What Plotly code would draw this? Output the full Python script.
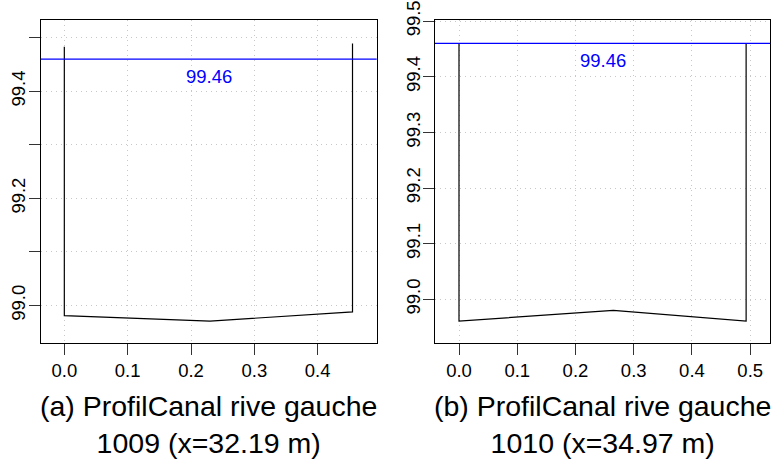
import plotly.graph_objects as go

# Panel (a): profile 1009
x_a = [0.0, 0.0, 0.23, 0.455, 0.455]
y_a = [99.483, 98.981, 98.971, 98.988, 99.489]
water_a = 99.46
caption_a = "(a) ProfilCanal rive gauche<br>1009 (x=32.19 m)"

# Panel (b): profile 1010
x_b = [0.0, 0.0, 0.265, 0.493, 0.493]
y_b = [99.46, 98.961, 98.980, 98.961, 99.46]
water_b = 99.46
caption_b = "(b) ProfilCanal rive gauche<br>1010 (x=34.97 m)"

yticks = [99.0, 99.1, 99.2, 99.3, 99.4, 99.5]
yticktext_a = ["99.0", "", "99.2", "", "99.4", ""]
yticktext_b = ["99.0", "99.1", "99.2", "99.3", "99.4", "99.5"]
xticks_a = [0.0, 0.1, 0.2, 0.3, 0.4]
xticks_b = [0.0, 0.1, 0.2, 0.3, 0.4, 0.5]

W, H = 771, 466
FONT = "Liberation Sans, Arial, sans-serif"
TICKF = dict(family=FONT, size=18.5, color="black")

fig = go.Figure()
fig.add_trace(go.Scatter(x=x_a, y=y_a, mode="lines", line=dict(color="black", width=1.2),
                         xaxis="x", yaxis="y", showlegend=False, hoverinfo="skip"))
fig.add_trace(go.Scatter(x=x_b, y=y_b, mode="lines", line=dict(color="black", width=1.2),
                         xaxis="x2", yaxis="y2", showlegend=False, hoverinfo="skip"))

def px_dom(a, b, total):
    return [a / total, b / total]

xdom_a = px_dom(40.7, 376.7, W)
xdom_b = px_dom(435, 770, W)
ydom = [1 - 343 / H, 1 - 20 / H]

common_axis = dict(showline=True, linecolor="black", linewidth=1, mirror=True,
                   ticks="outside", ticklen=11, tickcolor="#333333", tickwidth=1,
                   showgrid=True, gridcolor="#c8c8c8", griddash="1px,4px", gridwidth=1,
                   zeroline=False, tickfont=TICKF, automargin=False)

fig.update_layout(
    template="none",
    width=W, height=H, margin=dict(l=0, r=0, t=0, b=0, pad=0, autoexpand=False),
    plot_bgcolor="white", paper_bgcolor="white",
    xaxis=dict(domain=xdom_a, anchor="y", range=[-0.0373, 0.4932], tickvals=xticks_a,
               ticktext=["0.0", "0.1", "0.2", "0.3", "0.4"], **common_axis),
    yaxis=dict(domain=ydom, anchor="x", range=[98.930, 99.533], tickvals=yticks,
               ticktext=yticktext_a, tickangle=-90, ticklabelstandoff=-4, **common_axis),
    xaxis2=dict(domain=xdom_b, anchor="y2", range=[-0.0412, 0.534], tickvals=xticks_b,
                ticktext=["0.0", "0.1", "0.2", "0.3", "0.4", "0.5"], **common_axis),
    yaxis2=dict(domain=ydom, anchor="x2", range=[98.9215, 99.502], tickvals=yticks,
                ticktext=yticktext_b, tickangle=-90, ticklabelstandoff=-4, **common_axis),
)

for xr, yr, wl in [("x", "y", water_a), ("x2", "y2", water_b)]:
    fig.add_shape(type="line", xref=xr + " domain", yref=yr, x0=0, x1=1, y0=wl, y1=wl,
                  layer="above", line=dict(color="#0000ff", width=1.2))
    fig.add_annotation(xref=xr + " domain", yref=yr, x=0.5, y=wl, text=f"{wl:.2f}",
                       xanchor="center", yanchor="middle",
                       showarrow=False, yshift=-17, font=dict(family=FONT, size=18.5, color="#0000ff"))

for dom, cap in [(xdom_a, caption_a), (xdom_b, caption_b)]:
    fig.add_annotation(xref="paper", yref="paper", x=(dom[0] + dom[1]) / 2, y=1 - 424 / H,
                       text=cap, showarrow=False, xanchor="center", yanchor="middle",
                       font=dict(family=FONT, size=28.5, color="black"))

fig.write_html("out.html", config={"displayModeBar": False},
               post_script="document.body.style.margin='0px';")
